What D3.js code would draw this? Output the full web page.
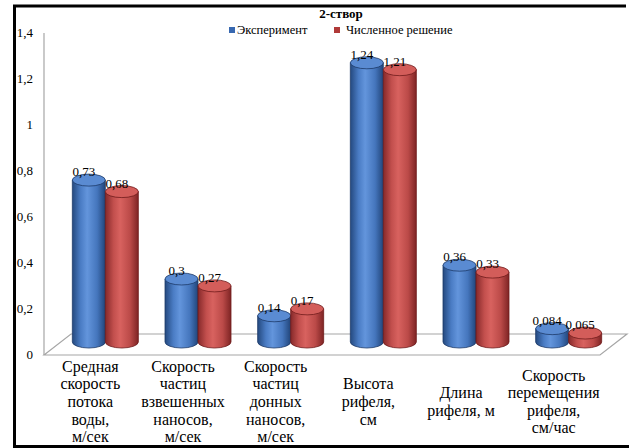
<!DOCTYPE html>
<html>
<head>
<meta charset="utf-8">
<script src="https://cdn.jsdelivr.net/npm/d3@7"></script>
</head>
<body style="margin:0">
<div id="app"></div>
<script>
const width = 629;
const height = 448;
const font = (size, bold)=>`font-family: 'Liberation Serif'; font-size: ${size}px;${bold ? ' font-weight: bold;' : ''}`;

const title = '2-створ';
const seriesNames = ['Эксперимент', 'Численное решение'];
const categories = [
  ['Средная', 'скорость', 'потока', 'воды,', 'м/сек'],
  ['Скорость', 'частиц', 'взвешенных', 'наносов,', 'м/сек'],
  ['Скорость', 'частиц', 'донных', 'наносов,', 'м/сек'],
  ['Высота', 'рифеля,', 'см'],
  ['Длина', 'рифеля, м'],
  ['Скорость', 'перемещения', 'рифеля,', 'см/час'],
];
const experiment = [0.73, 0.3, 0.14, 1.24, 0.36, 0.084];
const numeric = [0.68, 0.27, 0.17, 1.21, 0.33, 0.065];
const valueLabels = [
  ['0,73', '0,3', '0,14', '1,24', '0,36', '0,084'],
  ['0,68', '0,27', '0,17', '1,21', '0,33', '0,065'],
];
const yTicks = [0, 0.2, 0.4, 0.6, 0.8, 1, 1.2, 1.4];

const svg = d3.create('svg')
  .attr('width', width)
  .attr('height', height);

const defs = svg.append('defs');
const palettes = [
  {id: 'gBlue', stops: ['#24497f', '#4a7cc4', '#6395dc', '#4576bd', '#21457a'], top: '#5a8bd2', edge: '#1d3a68'},
  {id: 'gRed', stops: ['#86292a', '#c24f4d', '#d8625f', '#bb4a48', '#7e2424'], top: '#d35d5a', edge: '#6e1b1b'},
];
palettes.forEach((p)=>{
  const g = defs.append('linearGradient').attr('id', p.id).attr('x1', 0).attr('x2', 1).attr('y1', 0).attr('y2', 0);
  [0, 0.25, 0.45, 0.75, 1].forEach((o, i)=>{
    g.append('stop').attr('offset', o).attr('stop-color', p.stops[i]);
  });
});

// 3d floor geometry: front edge and depth shift
const x = d3.scaleBand().domain(d3.range(categories.length)).range([44, 600]);
const y = d3.scaleLinear().domain([0, 1.4]).range([355, 33]);
const depthX = 27;
const depthY = -21;

// frame
svg.append('path')
  .attr('d', `M14.5,446.5 L14.5,6 L626,6 M13,446.5 L629,446.5`)
  .attr('fill', 'none')
  .attr('stroke', '#000')
  .attr('stroke-width', 3);

// floor + axis line
svg.append('path')
  .attr('d', `M${x.range()[0]},${y(0)} L${x.range()[0] + depthX},${y(0) + depthY} L${x.range()[1] + depthX},${y(0) + depthY} L${x.range()[1]},${y(0)} Z`)
  .attr('fill', '#fff')
  .attr('stroke', '#a6a6a6')
  .attr('stroke-width', 1.2);
svg.append('line')
  .attr('x1', 44).attr('x2', 44)
  .attr('y1', y(1.4)).attr('y2', y(0))
  .attr('stroke', '#a6a6a6')
  .attr('stroke-width', 1.2);

// y tick labels
yTicks.forEach((d)=>{
  svg.append('text')
    .attr('x', 33)
    .attr('y', y(d) + 4)
    .attr('text-anchor', 'end')
    .attr('style', font(13))
    .text(d3.format('.1~f')(d).replace('.', ','));
});

// cylinders
const barW = 33;
const rx = barW / 2;
const ry = 6;
const baseY = y(0) - 13;
const topY = (v)=>y(v) - 7;
const bars = [];
[experiment, numeric].forEach((vals, s)=>{
  vals.forEach((v, i)=>{
    const cx = x(i) + x.bandwidth() / 2 + 15 + (s === 0 ? -rx : rx);
    bars.push({s, i, v, cx});
  });
});

bars.forEach((b)=>{
  const p = palettes[b.s];
  const t = topY(b.v);
  svg.append('path')
    .attr('d', `M${b.cx - rx},${t} L${b.cx - rx},${baseY} A${rx},${ry} 0 0 0 ${b.cx + rx},${baseY} L${b.cx + rx},${t} Z`)
    .attr('fill', `url(#${p.id})`)
    .attr('stroke', p.edge)
    .attr('stroke-width', 0.8);
  svg.append('ellipse')
    .attr('cx', b.cx).attr('cy', t)
    .attr('rx', rx).attr('ry', ry)
    .attr('fill', p.top)
    .attr('stroke', p.edge)
    .attr('stroke-width', 0.8);
});

// value labels
bars.forEach((b)=>{
  svg.append('text')
    .attr('x', b.cx - 5)
    .attr('y', topY(b.v) - ry + 2)
    .attr('text-anchor', 'middle')
    .attr('style', font(13))
    .text(valueLabels[b.s][b.i]);
});

// category labels, one text per line
const lineH = 17.6;
categories.forEach((lines, i)=>{
  const cx = x(i) + x.bandwidth() / 2;
  const y0 = 402 - (lines.length - 1) * lineH / 2;
  lines.forEach((line, k)=>{
    svg.append('text')
      .attr('x', cx)
      .attr('y', y0 + k * lineH + 5)
      .attr('text-anchor', 'middle')
      .attr('style', font(16))
      .text(line);
  });
});

// title and legend
svg.append('text')
  .attr('x', 341)
  .attr('y', 18)
  .attr('text-anchor', 'middle')
  .attr('style', font(13, true))
  .text(title);

const legendX = [229, 334];
seriesNames.forEach((name, s)=>{
  svg.append('rect')
    .attr('x', legendX[s]).attr('y', 27)
    .attr('width', 6).attr('height', 6)
    .attr('fill', s === 0 ? '#3868b0' : '#b03a38');
  svg.append('text')
    .attr('x', legendX[s] + (s === 0 ? 8 : 12))
    .attr('y', 34)
    .attr('style', font(12.5))
    .text(name);
});

document.getElementById('app').appendChild(svg.node());
</script>
</body>
</html>
